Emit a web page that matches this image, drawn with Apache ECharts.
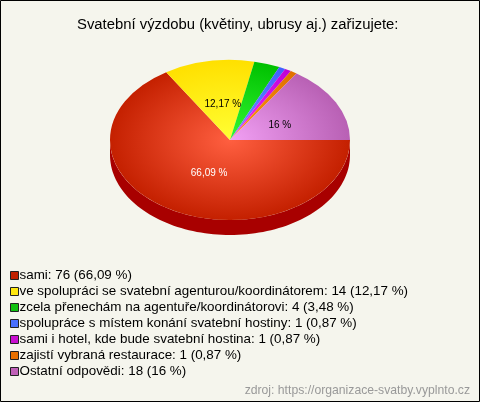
<!DOCTYPE html>
<html>
<head>
<meta charset="utf-8">
<style>html,body{margin:0;padding:0;background:#f5f5ed}#c{width:480px;height:402px}</style>
<script src="https://cdn.jsdelivr.net/npm/echarts@6/dist/echarts.min.js"></script>
</head>
<body>
<div id="c"></div>
<script>
const titleText = 'Svatební výzdobu (květiny, ubrusy aj.) zařizujete:';
const sourceText = 'zdroj: https://organizace-svatby.vyplnto.cz';
const categories = ['sami','ve spolupráci se svatební agenturou/koordinátorem','zcela přenechám na agentuře/koordinátorovi','spolupráce s místem konání svatební hostiny','sami i hotel, kde bude svatební hostina','zajistí vybraná restaurace','Ostatní odpovědi'];
const counts = [76,14,4,1,1,1,18];
const percents = ['66,09 %','12,17 %','3,48 %','0,87 %','0,87 %','0,87 %','16 %'];
const innerColors = ['#ff5f40','#ffff33','#33f733','#7090ff','#f733f7','#ff9a10','#f2a0f4'];
const outerColors = ['#c42000','#ffe000','#00c000','#4060ff','#c000d8','#e07000','#b860b4'];
const legendColors = ['#c02000','#ffe810','#10c010','#4a70ff','#c810d0','#e87000','#c060b8'];
const labelled = [0,1,6];
const labelColors = {0:'#ffffff',1:'#000000',6:'#000000'};
const labelNudge = {0:[7,0],1:[3,2],6:[-1,3]};

const CX=230, CY=140, RX=120, RY=80, DEPTH=15;
const total = counts.reduce((a,b)=>a+b,0);
const toRad = Math.PI/180;
const starts = []; let acc=0;
counts.forEach(v=>{starts.push(acc); acc+=v/total*360;});

function renderSlice(i){
  return function(){
    const a0=starts[i], a1=a0+counts[i]/total*360, kids=[];
    const lo=a0, hi=Math.min(a1,180);
    if(hi>lo){
      const top=[],bot=[];
      for(let t=lo;;t+=2){
        const a=Math.min(t,hi)*toRad, x=CX+RX*Math.cos(a), y=CY+RY*Math.sin(a);
        top.push([x,y]); bot.unshift([x,y+DEPTH]);
        if(t>=hi)break;
      }
      kids.push({type:'polygon',shape:{points:top.concat(bot)},style:{fill:'#a80000'},silent:true});
    }
    kids.push({type:'sector',x:CX,y:CY,scaleY:RY/RX,silent:true,
      shape:{cx:0,cy:0,r0:0,r:RX,startAngle:a0*toRad,endAngle:a1*toRad,clockwise:true},
      style:{fill:{type:'radial',x:0,y:0,r:RX,global:true,colorStops:[{offset:0,color:innerColors[i]},{offset:1,color:outerColors[i]}]}}});
    if(labelled.includes(i)){
      const m=(a0+a1)/2*toRad, n=labelNudge[i];
      kids.push({type:'text',silent:true,z2:10,
        x:CX+RX*0.48*Math.cos(m)+n[0], y:CY+RY*0.48*Math.sin(m)+n[1],
        style:{text:percents[i],fill:labelColors[i],font:'10px "Liberation Sans"',textAlign:'center',textVerticalAlign:'middle'}});
    }
    return {type:'group',children:kids};
  };
}
const names = categories.map((c,i)=>c+': '+counts[i]+' ('+percents[i]+')');
const chart = echarts.init(document.getElementById('c'),null,{renderer:'canvas'});
chart.setOption({
  animation:false,
  backgroundColor:'#f5f5ed',
  title:{text:titleText,left:72,top:12,textStyle:{fontFamily:'Liberation Sans',fontSize:14.85,fontWeight:'normal',color:'#000'}},
  legend:{orient:'vertical',left:5,top:264,itemWidth:8,itemHeight:8,itemGap:3,selectedMode:false,icon:'rect',
    textStyle:{fontFamily:'Liberation Sans',fontSize:13.4,color:'#000',padding:[0,0,0,-4],lineHeight:12.5},
    data:names.map((n,i)=>({name:n,itemStyle:{color:legendColors[i],borderColor:'#222',borderWidth:1}}))},
  series:categories.map((c,i)=>({type:'custom',name:names[i],coordinateSystem:'none',silent:true,clip:false,
    data:[counts[i]],itemStyle:{color:legendColors[i]},renderItem:renderSlice(i)})),
  graphic:[
    {type:'rect',silent:true,z:100,shape:{x:0.5,y:0.5,width:479,height:401},style:{fill:'none',stroke:'#000',lineWidth:1}},
    {type:'text',silent:true,right:10,top:385,style:{text:sourceText,fill:'#999',font:'12.2px "Liberation Sans"'}}
  ]
});
</script>
</body>
</html>
